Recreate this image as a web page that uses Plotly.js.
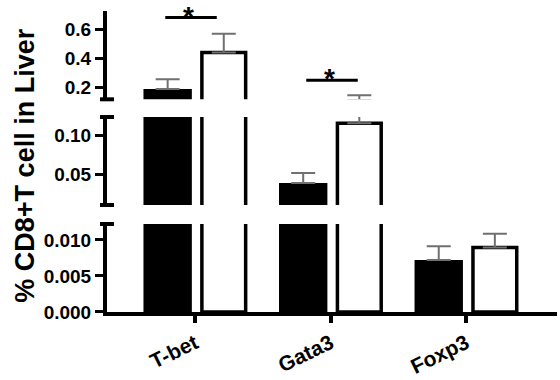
<!DOCTYPE html>
<html>
<head>
<meta charset="utf-8">
<script src="https://cdn.plot.ly/plotly-3.0.1.min.js"></script>
<style>
  html, body { margin: 0; padding: 0; background: #fff; }
  #chart { width: 560px; height: 380px; }
</style>
</head>
<body>
<div id="chart"></div>
<script>
// Transcription factors measured
const categories = ['T-bet', 'Gata3', 'Foxp3'];

// Group means (% of CD8+ T cells) and upper SEM
const blackValues = [0.191, 0.039, 0.0072];
const blackErrors = [0.066, 0.0128, 0.0019];
const whiteValues = [0.44, 0.115, 0.00895];
const whiteErrors = [0.13, 0.033, 0.0019];

// Significance brackets: level on the upper axis segment, horizontal extent relative to category
const sigLevel = [0.68, 0.25, null];
const sigFrom = [-0.22, -0.18, null];
const sigTo = [0.16, 0.20, null];
const sigLabel = ['*', '*', ''];

// Broken y axis: three segments sharing one x axis
const segments = [
  { axis: 'y',  range: [0, 0.0122],     domain: [0, 0.2924],      ticks: [0, 0.005, 0.010], fmt: '.3f' },
  { axis: 'y2', range: [0.011, 0.1231], domain: [0.3555, 0.6478], ticks: [0.05, 0.10],      fmt: '.2f' },
  { axis: 'y3', range: [0.12, 0.725],   domain: [0.7066, 1],      ticks: [0.2, 0.4, 0.6],   fmt: '.1f' }
];

const FONT = 'Liberation Sans, Arial, Helvetica, sans-serif';
const xIdx = categories.map((_, i) => i);

const errStyle = { type: 'data', symmetric: false, color: '#707070', thickness: 2, width: 12 };

const groups = [
  { values: blackValues, errors: blackErrors, width: 0.357, offset: -0.381,
    marker: { color: '#000', line: { width: 0 } } },
  { values: whiteValues, errors: whiteErrors, width: 0.323, offset: 0.050,
    marker: { color: '#fff', line: { color: '#000', width: 3.5 } } }
];

const traces = [];
segments.forEach(seg => {
  const lo = seg.range[0];
  groups.forEach(g => {
    // bars that reach into this segment
    const shown = g.values.map(v => (v >= lo ? v : null));
    traces.push({
      type: 'bar', x: xIdx, y: shown, yaxis: seg.axis, xaxis: 'x',
      width: g.width, offset: g.offset, marker: g.marker,
      error_y: Object.assign({ array: g.errors, arrayminus: g.values.map(() => 0) }, errStyle),
      showlegend: false, hoverinfo: 'skip'
    });
    // error bars that start below this segment but end inside it
    const errOnly = g.values.map((v, i) => (v < lo && v + g.errors[i] > lo ? v : null));
    if (errOnly.some(v => v !== null)) {
      traces.push({
        type: 'bar', x: xIdx, y: errOnly, yaxis: seg.axis, xaxis: 'x',
        width: g.width, offset: g.offset,
        marker: { color: 'rgba(0,0,0,0)', line: { width: 0 } },
        error_y: Object.assign({ array: g.errors, arrayminus: g.values.map(() => 0) }, errStyle),
        showlegend: false, hoverinfo: 'skip'
      });
    }
  });
});

const tickFont = { family: FONT, size: 19, color: '#000', weight: 'bold' };

const layout = {
  width: 560, height: 380,
  margin: { l: 107, r: 3, t: 11, b: 68 },
  paper_bgcolor: '#fff', plot_bgcolor: 'rgba(0,0,0,0)',
  barmode: 'overlay',
  showlegend: false,
  xaxis: {
    range: [-0.65, 2.67],
    tickvals: xIdx, ticktext: categories,
    tickangle: -26,
    ticks: 'outside', ticklen: 7, tickwidth: 4, tickcolor: '#000',
    showline: true, linewidth: 4, linecolor: '#000',
    showgrid: false, zeroline: false,
    tickfont: { family: FONT, size: 21, color: '#000', weight: 'bold' },
    anchor: 'y', fixedrange: true
  },
  shapes: [],
  annotations: []
};

segments.forEach((seg, i) => {
  const key = i === 0 ? 'yaxis' : 'yaxis' + (i + 1);
  layout[key] = {
    domain: seg.domain, range: seg.range,
    tickvals: seg.ticks, tickformat: seg.fmt,
    ticks: 'outside', ticklen: 8, tickwidth: 3, tickcolor: '#000',
    showline: true, linewidth: 4, linecolor: '#000',
    showgrid: false, zeroline: false,
    tickfont: tickFont, anchor: 'x', fixedrange: true
  };
});

// Break caps at the inner ends of the segments
[['y3 domain', 0], ['y2 domain', 1], ['y2 domain', 0], ['y domain', 1]].forEach(([ref, yy]) => {
  layout.shapes.push({
    type: 'line', xref: 'paper', yref: ref,
    x0: -0.0155, x1: 0.0155, y0: yy, y1: yy,
    line: { color: '#000', width: 4 }
  });
});

// Significance brackets and stars
categories.forEach((c, i) => {
  if (sigLevel[i] === null) return;
  layout.shapes.push({
    type: 'line', xref: 'x', yref: 'y3',
    x0: i + sigFrom[i], x1: i + sigTo[i], y0: sigLevel[i], y1: sigLevel[i],
    line: { color: '#000', width: 3 }
  });
  layout.annotations.push({
    xref: 'x', yref: 'y3', x: i + (sigFrom[i] + sigTo[i]) / 2 - 0.02, y: sigLevel[i],
    text: sigLabel[i], showarrow: false, yanchor: 'top', yshift: 19,
    font: { family: FONT, size: 28, color: '#000', weight: 'bold' }
  });
});

// Y axis title spanning all segments
layout.annotations.push({
  xref: 'paper', yref: 'paper', x: -0.183, y: 0.485,
  text: '% CD8+T cell in Liver', textangle: -90, showarrow: false,
  xanchor: 'center', yanchor: 'middle',
  font: { family: FONT, size: 27, color: '#000', weight: 'bold' }
});

Plotly.newPlot('chart', traces, layout, { staticPlot: true, displayModeBar: false });
</script>
</body>
</html>
